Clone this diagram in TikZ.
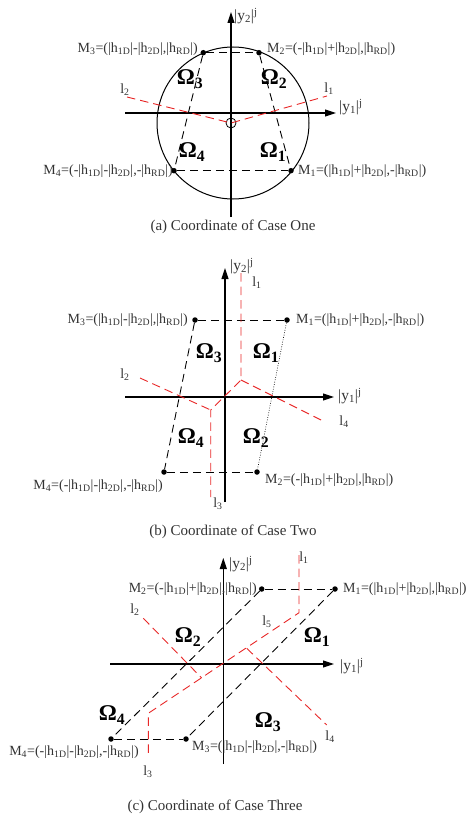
\documentclass[tikz,border=0pt]{standalone}
\usepackage{fontspec}
\setmainfont{Liberation Serif}
\usetikzlibrary{arrows.meta}
\definecolor{myred}{RGB}{232,40,40}
\definecolor{txt}{RGB}{50,50,50}
\newcommand\sbs[1]{\textsubscript{#1}}
\begin{document}
\begin{tikzpicture}[x=1pt,y=-1pt,
  axis/.style={line width=1.1pt,-{Triangle[length=11pt,width=7pt]}},
  bdash/.style={line width=0.9pt,dash pattern=on 8pt off 5pt},
  rdash/.style={line width=0.9pt,myred,dash pattern=on 8.5pt off 5pt},
  dotline/.style={line width=0.6pt,dash pattern=on 0.8pt off 1.6pt},
  pt/.style={circle,fill=black,inner sep=0pt,minimum size=5.5pt},
  lab/.style={font=\fontsize{14}{16}\selectfont,inner sep=0pt,text=txt},
  axlab/.style={font=\fontsize{15.5}{17}\selectfont,inner sep=0pt,text=txt},
  om/.style={font=\fontsize{22.5}{24}\selectfont\bfseries,inner sep=0pt},
  captxt/.style={font=\fontsize{15}{17}\selectfont,inner sep=0pt,text=txt}]
\useasboundingbox (0,0) rectangle (471,821);
% ---------------- panel (a)
\coordinate (ayb) at (231,217); \coordinate (ayt) at (231,12);
\coordinate (axl) at (125,113); \coordinate (axr) at (336,113);
\draw[axis] (ayb) -- (ayt);
\draw[axis] (axl) -- (axr);
\coordinate (aC) at (233,123);
\draw[line width=1pt] (aC) circle[radius=76];
\coordinate (aO) at (231,123);
\draw[line width=0.8pt] (aO) circle[radius=5];
\node[pt] (aM3) at (203.3,52.7) {};
\node[pt] (aM2) at (259,52.7) {};
\node[pt] (aM4) at (174,170.7) {};
\node[pt] (aM1) at (291,170.7) {};
\draw[bdash] (aM3) -- (aM2);
\draw[bdash] (aM4) -- (aM1);
\draw[bdash] (aM3) -- (aM4);
\draw[bdash] (aM2) -- (aM1);
\coordinate (al2) at (127,97); \coordinate (al1) at (327,96);
\draw[rdash] (al2) -- (aO) -- (al1);
\node[lab] (al2t) at (125,90) {l\sbs{2}};
\node[lab] (al1t) at (329,89) {l\sbs{1}};
\node[axlab,anchor=west] (ay2) at (234,16) {|y\sbs{2}|\textsuperscript{j}};
\node[axlab,anchor=west] (ay1) at (339,107) {|y\sbs{1}|\textsuperscript{j}};
\node[om] (aW3) at (190,79) {Ω\sbs{3}};
\node[om] (aW2) at (274,79) {Ω\sbs{2}};
\node[om] (aW4) at (192,152) {Ω\sbs{4}};
\node[om] (aW1) at (273,152) {Ω\sbs{1}};
\node[lab,anchor=east] (aL3) at (198,49) {M\sbs{3}=(|h\sbs{1D}|-|h\sbs{2D}|,|h\sbs{RD}|)};
\node[lab,anchor=west] (aL2) at (267,49) {M\sbs{2}=(-|h\sbs{1D}|+|h\sbs{2D}|,|h\sbs{RD}|)};
\node[lab,anchor=east] (aL4) at (173,171) {M\sbs{4}=(-|h\sbs{1D}|-|h\sbs{2D}|,-|h\sbs{RD}|)};
\node[lab,anchor=west] (aL1) at (298,171) {M\sbs{1}=(|h\sbs{1D}|+|h\sbs{2D}|,-|h\sbs{RD}|)};
\node[captxt] (acap) at (233,227) {(a) Coordinate of Case One};
% ---------------- panel (b)
\coordinate (byb) at (225,502); \coordinate (byt) at (225,268);
\coordinate (bxl) at (125,397); \coordinate (bxr) at (334,397);
\draw[axis] (byb) -- (byt);
\draw[axis] (bxl) -- (bxr);
\node[pt] (bM3) at (195,320) {};
\node[pt] (bM1) at (287,320) {};
\node[pt] (bM4) at (164,472) {};
\node[pt] (bM2) at (257,472) {};
\draw[bdash] (bM3) -- (bM1);
\draw[bdash] (bM4) -- (bM2);
\draw[bdash] (bM3) -- (bM4);
\draw[dotline] (bM1) -- (bM2);
\coordinate (bl1) at (241,273); \coordinate (bk1) at (241,380);
\coordinate (bk2) at (210.7,410); \coordinate (bl3) at (210.7,497);
\coordinate (bl2) at (140,378); \coordinate (bl4) at (325,422);
\draw[rdash] (bl1) -- (bk1) -- (bk2) -- (bl3);
\draw[rdash] (bl2) -- (bk2);
\draw[rdash] (bk1) -- (bl4);
\node[lab] (bl1t) at (257,283) {l\sbs{1}};
\node[lab] (bl2t) at (125,375) {l\sbs{2}};
\node[lab] (bl4t) at (344,422) {l\sbs{4}};
\node[lab] (bl3t) at (218,504) {l\sbs{3}};
\node[axlab,anchor=west] (by2) at (230,266) {|y\sbs{2}|\textsuperscript{j}};
\node[axlab,anchor=west] (by1) at (338,396) {|y\sbs{1}|\textsuperscript{j}};
\node[om] (bW3) at (209,353) {Ω\sbs{3}};
\node[om] (bW1) at (266,353) {Ω\sbs{1}};
\node[om] (bW4) at (191,438) {Ω\sbs{4}};
\node[om] (bW2) at (256,438) {Ω\sbs{2}};
\node[lab,anchor=east] (bL3) at (188,320) {M\sbs{3}=(|h\sbs{1D}|-|h\sbs{2D}|,|h\sbs{RD}|)};
\node[lab,anchor=west] (bL1) at (296,320) {M\sbs{1}=(|h\sbs{1D}|+|h\sbs{2D}|,-|h\sbs{RD}|)};
\node[lab,anchor=east] (bL4) at (163,486) {M\sbs{4}=(-|h\sbs{1D}|-|h\sbs{2D}|,-|h\sbs{RD}|)};
\node[lab,anchor=west] (bL2) at (265,480) {M\sbs{2}=(-|h\sbs{1D}|+|h\sbs{2D}|,|h\sbs{RD}|)};
\node[captxt] (bcap) at (233,532) {(b) Coordinate of Case Two};
% ---------------- panel (c)
\coordinate (cyb) at (223.3,764); \coordinate (cyt) at (223.3,558);
\coordinate (cxl) at (110,664); \coordinate (cxr) at (334,664);
\draw[axis] (cyb) -- (cyt);
\draw[axis] (cxl) -- (cxr);
\node[pt] (cM2) at (261.7,589) {};
\node[pt] (cM1) at (335,589) {};
\node[pt] (cM4) at (111,739) {};
\node[pt] (cM3) at (186,739) {};
\draw[bdash] (cM2) -- (cM1);
\draw[bdash] (cM4) -- (cM3);
\draw[bdash] (cM2) -- (cM4);
\draw[bdash] (cM1) -- (cM3);
\coordinate (cl1) at (299,555); \coordinate (ck1) at (299,612.7);
\coordinate (ck2) at (148.3,713.3); \coordinate (cl3) at (148.3,755);
\coordinate (cl2) at (143.3,618.3); \coordinate (cj2) at (201.7,678);
\coordinate (cj4) at (246.7,648.3); \coordinate (cl4) at (326.7,725);
\draw[rdash] (cl1) -- (ck1) -- (ck2) -- (cl3);
\draw[rdash] (cl2) -- (cj2);
\draw[rdash] (cj4) -- (cl4);
\node[lab] (cl1t) at (304,558) {l\sbs{1}};
\node[lab] (cl2t) at (135,610) {l\sbs{2}};
\node[lab] (cl5t) at (267,622) {l\sbs{5}};
\node[lab] (cl4t) at (330,737) {l\sbs{4}};
\node[lab] (cl3t) at (148,772) {l\sbs{3}};
\node[axlab,anchor=west] (cy2) at (229,564) {|y\sbs{2}|\textsuperscript{j}};
\node[axlab,anchor=west] (cy1) at (340,666) {|y\sbs{1}|\textsuperscript{j}};
\node[om] (cW2) at (188,637) {Ω\sbs{2}};
\node[om] (cW1) at (317,637) {Ω\sbs{1}};
\node[om] (cW4) at (112,715) {Ω\sbs{4}};
\node[om] (cW3) at (268,722) {Ω\sbs{3}};
\node[lab,anchor=east] (cL2) at (257,589) {M\sbs{2}=(-|h\sbs{1D}|+|h\sbs{2D}|,|h\sbs{RD}|)};
\node[lab,anchor=west] (cL1) at (343,589) {M\sbs{1}=(|h\sbs{1D}|+|h\sbs{2D}|,|h\sbs{RD}|)};
\node[lab] (cL4) at (74,752) {M\sbs{4}=(-|h\sbs{1D}|-|h\sbs{2D}|,-|h\sbs{RD}|)};
\node[lab,anchor=west] (cL3) at (192,747) {M\sbs{3}=(|h\sbs{1D}|-|h\sbs{2D}|,-|h\sbs{RD}|)};
\node[captxt] (ccap) at (215,807) {(c) Coordinate of Case Three};
\end{tikzpicture}
\end{document}
